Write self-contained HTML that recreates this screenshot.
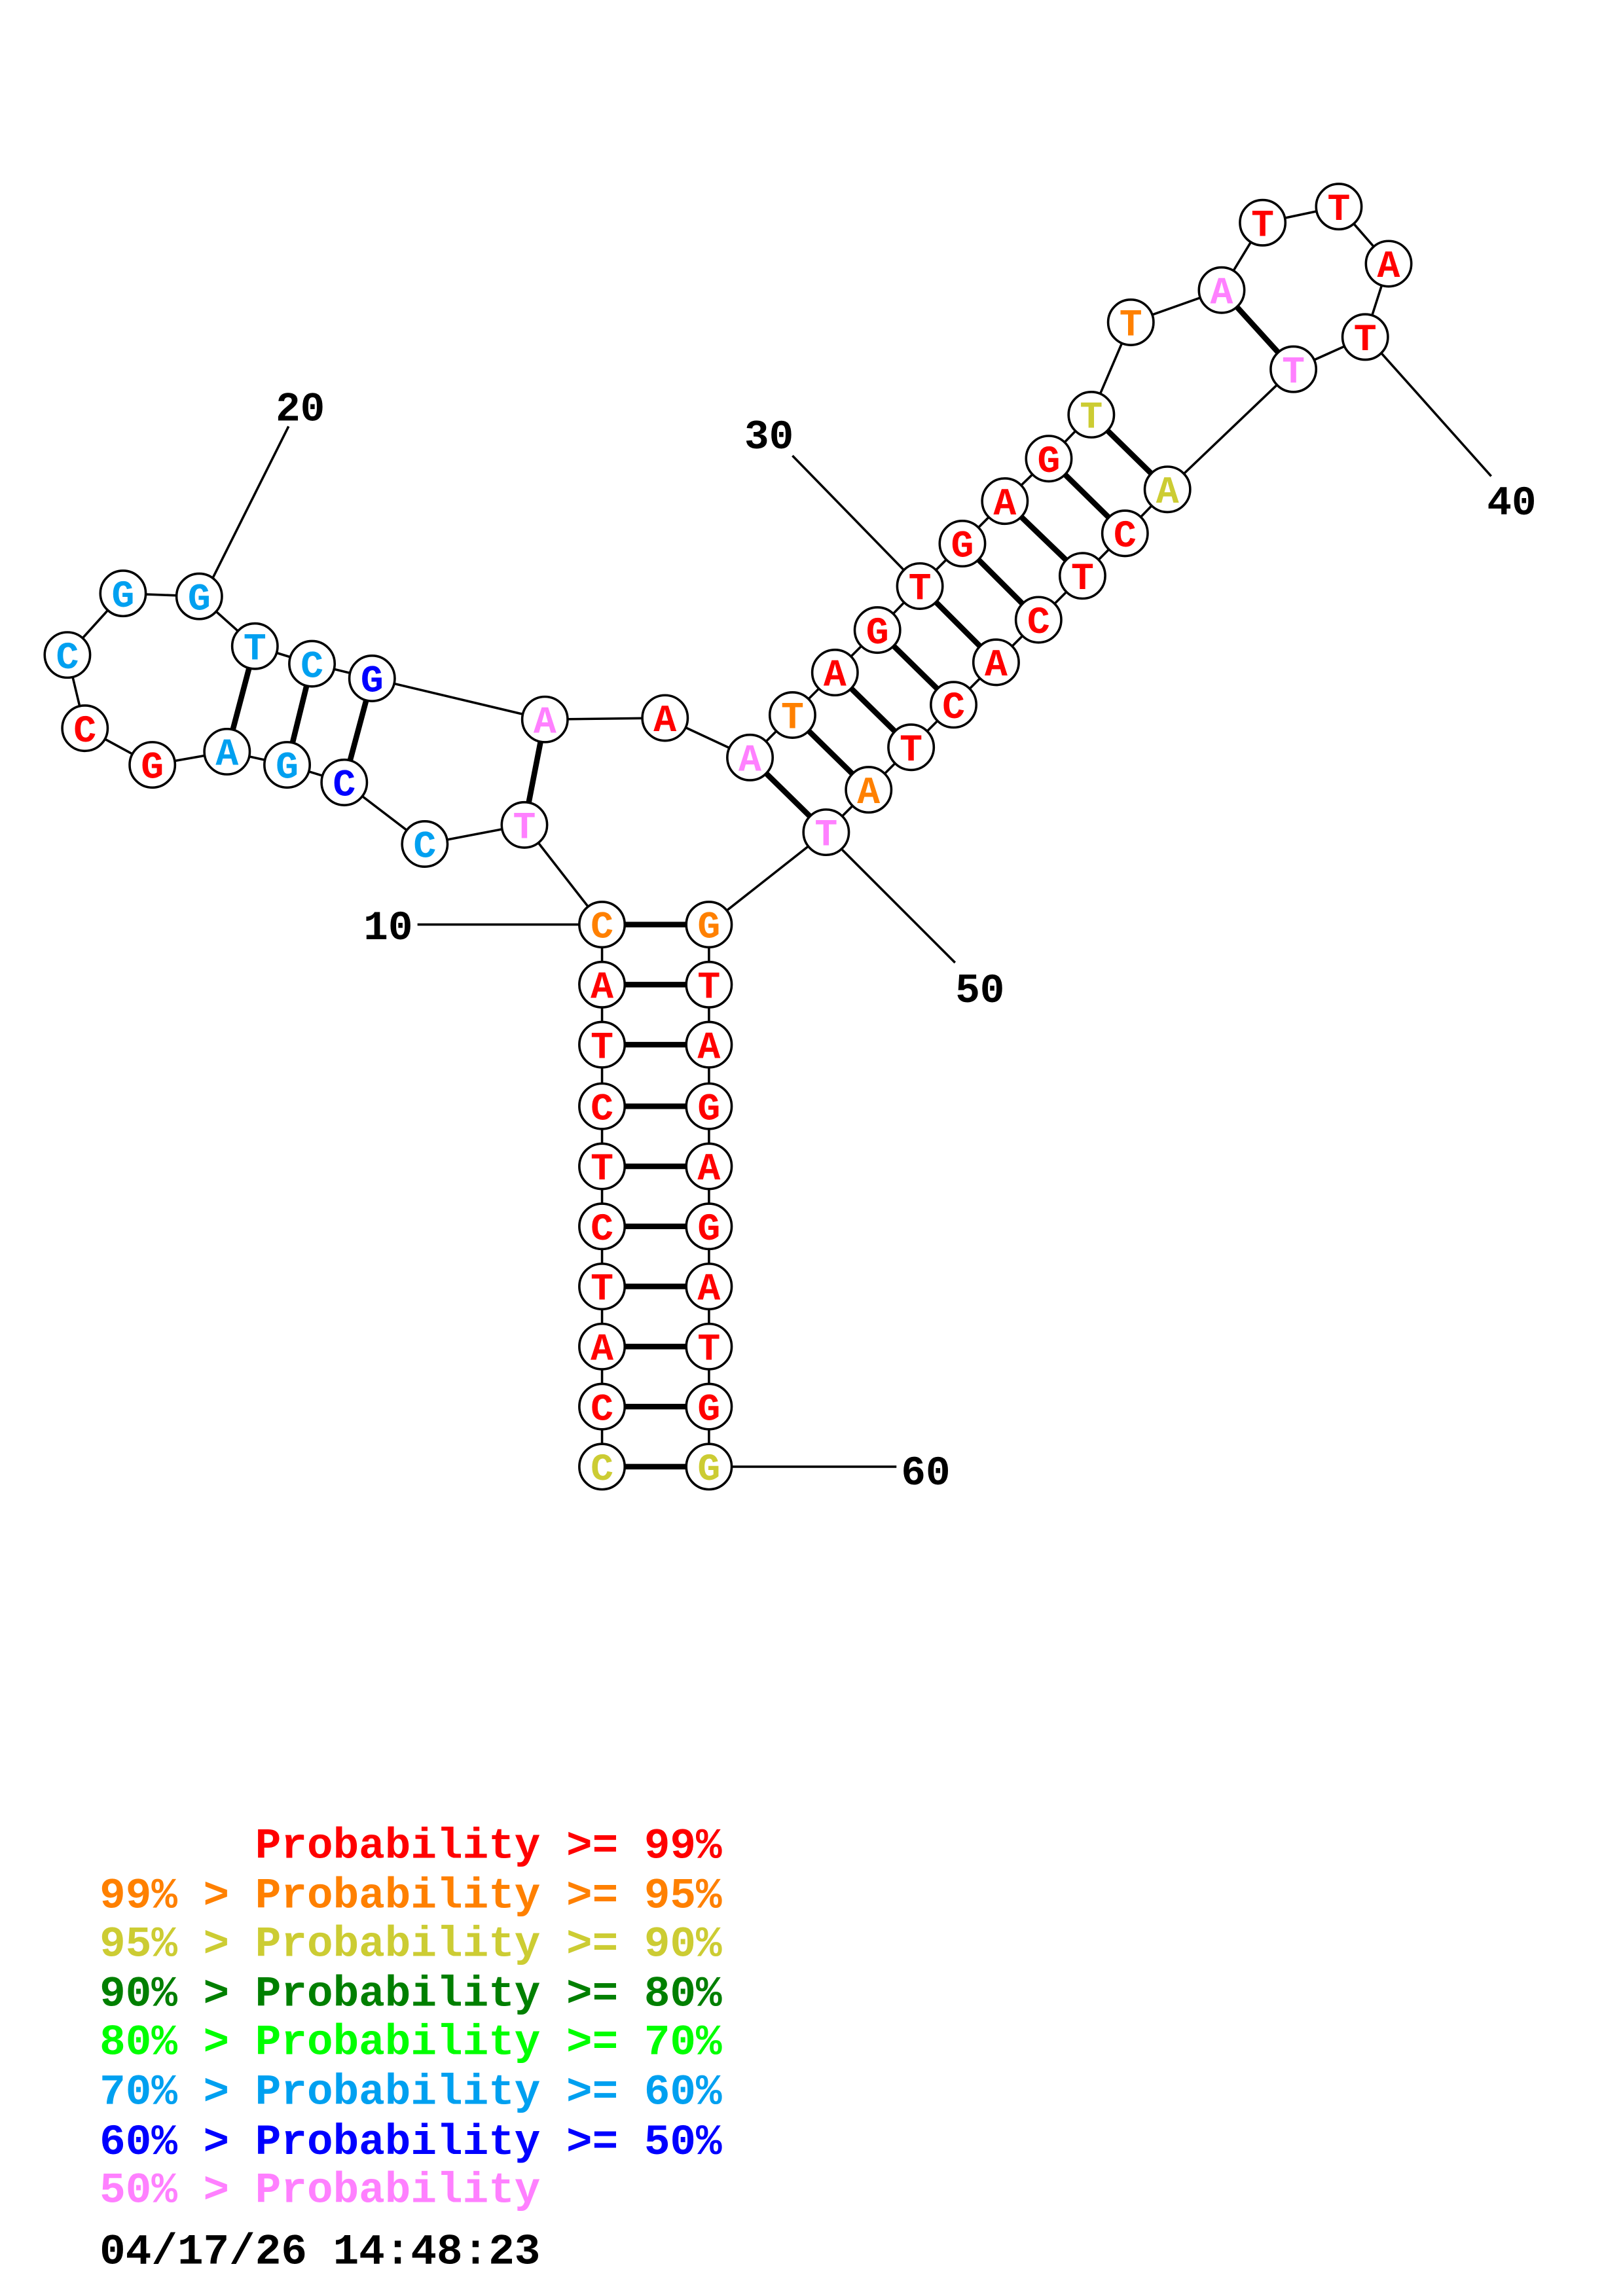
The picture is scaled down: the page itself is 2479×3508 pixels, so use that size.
<!DOCTYPE html>
<html><head><meta charset="utf-8"><style>
html,body{margin:0;padding:0;background:#fff;}
svg{display:block;}
.n{fill:#fff;stroke:#000;stroke-width:1.6;}
.l{font-family:"Liberation Mono",monospace;font-weight:bold;font-size:26px;text-anchor:middle;}
.lab{font-family:"Liberation Mono",monospace;font-weight:bold;font-size:28px;text-anchor:middle;fill:#000;}
.leg{font-family:"Liberation Mono",monospace;font-weight:bold;font-size:29.5px;white-space:pre;}
</style></head><body>
<svg width="2479" height="3508" viewBox="0 0 1108 1567" preserveAspectRatio="none" xmlns="http://www.w3.org/2000/svg">
<rect width="1108" height="1567" fill="#fff"/>
<g stroke="#000" stroke-width="1.6" fill="none">
<polyline points="411,1001 411,960 411,919 411,878 411,837 411,796 411,755 411,713 411,672 411,631 358,563 290,576 235,534 196,522 155,513 104,522 58,497 46,447 84,405 136,407 174,441 213,453 254,463 372,491 454,490 512,517 541,488 570,459 599,430 628,400 657,371 686,342 716,313 745,283 772,220 834,198 862,152 914,141 948,180 932,230 883,252 797,334 768,364 739,393 709,423 680,452 651,481 622,510 593,539 564,568 484,631 484,672 484,713 484,755 484,796 484,837 484,878 484,919 484,960 484,1001"/>
<line x1="285" y1="631" x2="398" y2="631"/>
<line x1="197" y1="291" x2="145" y2="395"/>
<line x1="541" y1="311" x2="617" y2="389"/>
<line x1="1018" y1="325" x2="943" y2="241"/>
<line x1="652" y1="657" x2="575" y2="580"/>
<line x1="498" y1="1001" x2="612" y2="1001"/>
</g>
<g stroke="#000" stroke-width="3.8">
<line x1="411" y1="631" x2="484" y2="631"/><line x1="411" y1="672" x2="484" y2="672"/>
<line x1="411" y1="713" x2="484" y2="713"/><line x1="411" y1="755" x2="484" y2="755"/>
<line x1="411" y1="796" x2="484" y2="796"/><line x1="411" y1="837" x2="484" y2="837"/>
<line x1="411" y1="878" x2="484" y2="878"/><line x1="411" y1="919" x2="484" y2="919"/>
<line x1="411" y1="960" x2="484" y2="960"/><line x1="411" y1="1001" x2="484" y2="1001"/>
<line x1="358" y1="563" x2="372" y2="491"/>
<line x1="235" y1="534" x2="254" y2="463"/>
<line x1="196" y1="522" x2="213" y2="453"/>
<line x1="155" y1="513" x2="174" y2="441"/>
<line x1="512" y1="517" x2="564" y2="568"/><line x1="541" y1="488" x2="593" y2="539"/>
<line x1="570" y1="459" x2="622" y2="510"/><line x1="599" y1="430" x2="651" y2="481"/>
<line x1="628" y1="400" x2="680" y2="452"/><line x1="657" y1="371" x2="709" y2="423"/>
<line x1="686" y1="342" x2="739" y2="393"/><line x1="716" y1="313" x2="768" y2="364"/>
<line x1="745" y1="283" x2="797" y2="334"/><line x1="834" y1="198" x2="883" y2="252"/>
</g>
<g>
<circle class="n" cx="411" cy="1001" r="15.5"/><circle class="n" cx="411" cy="960" r="15.5"/>
<circle class="n" cx="411" cy="919" r="15.5"/><circle class="n" cx="411" cy="878" r="15.5"/>
<circle class="n" cx="411" cy="837" r="15.5"/><circle class="n" cx="411" cy="796" r="15.5"/>
<circle class="n" cx="411" cy="755" r="15.5"/><circle class="n" cx="411" cy="713" r="15.5"/>
<circle class="n" cx="411" cy="672" r="15.5"/><circle class="n" cx="411" cy="631" r="15.5"/>
<circle class="n" cx="358" cy="563" r="15.5"/><circle class="n" cx="290" cy="576" r="15.5"/>
<circle class="n" cx="235" cy="534" r="15.5"/><circle class="n" cx="196" cy="522" r="15.5"/>
<circle class="n" cx="155" cy="513" r="15.5"/><circle class="n" cx="104" cy="522" r="15.5"/>
<circle class="n" cx="58" cy="497" r="15.5"/><circle class="n" cx="46" cy="447" r="15.5"/>
<circle class="n" cx="84" cy="405" r="15.5"/><circle class="n" cx="136" cy="407" r="15.5"/>
<circle class="n" cx="174" cy="441" r="15.5"/><circle class="n" cx="213" cy="453" r="15.5"/>
<circle class="n" cx="254" cy="463" r="15.5"/><circle class="n" cx="372" cy="491" r="15.5"/>
<circle class="n" cx="454" cy="490" r="15.5"/><circle class="n" cx="512" cy="517" r="15.5"/>
<circle class="n" cx="541" cy="488" r="15.5"/><circle class="n" cx="570" cy="459" r="15.5"/>
<circle class="n" cx="599" cy="430" r="15.5"/><circle class="n" cx="628" cy="400" r="15.5"/>
<circle class="n" cx="657" cy="371" r="15.5"/><circle class="n" cx="686" cy="342" r="15.5"/>
<circle class="n" cx="716" cy="313" r="15.5"/><circle class="n" cx="745" cy="283" r="15.5"/>
<circle class="n" cx="772" cy="220" r="15.5"/><circle class="n" cx="834" cy="198" r="15.5"/>
<circle class="n" cx="862" cy="152" r="15.5"/><circle class="n" cx="914" cy="141" r="15.5"/>
<circle class="n" cx="948" cy="180" r="15.5"/><circle class="n" cx="932" cy="230" r="15.5"/>
<circle class="n" cx="883" cy="252" r="15.5"/><circle class="n" cx="797" cy="334" r="15.5"/>
<circle class="n" cx="768" cy="364" r="15.5"/><circle class="n" cx="739" cy="393" r="15.5"/>
<circle class="n" cx="709" cy="423" r="15.5"/><circle class="n" cx="680" cy="452" r="15.5"/>
<circle class="n" cx="651" cy="481" r="15.5"/><circle class="n" cx="622" cy="510" r="15.5"/>
<circle class="n" cx="593" cy="539" r="15.5"/><circle class="n" cx="564" cy="568" r="15.5"/>
<circle class="n" cx="484" cy="631" r="15.5"/><circle class="n" cx="484" cy="672" r="15.5"/>
<circle class="n" cx="484" cy="713" r="15.5"/><circle class="n" cx="484" cy="755" r="15.5"/>
<circle class="n" cx="484" cy="796" r="15.5"/><circle class="n" cx="484" cy="837" r="15.5"/>
<circle class="n" cx="484" cy="878" r="15.5"/><circle class="n" cx="484" cy="919" r="15.5"/>
<circle class="n" cx="484" cy="960" r="15.5"/><circle class="n" cx="484" cy="1001" r="15.5"/>
</g>
<g class="l">
<text x="411" y="1010" fill="#cccc33">C</text><text x="411" y="969" fill="#ff0000">C</text>
<text x="411" y="928" fill="#ff0000">A</text><text x="411" y="887" fill="#ff0000">T</text>
<text x="411" y="846" fill="#ff0000">C</text><text x="411" y="805" fill="#ff0000">T</text>
<text x="411" y="764" fill="#ff0000">C</text><text x="411" y="722" fill="#ff0000">T</text>
<text x="411" y="681" fill="#ff0000">A</text><text x="411" y="640" fill="#ff8000">C</text>
<text x="358" y="572" fill="#ff80ff">T</text><text x="290" y="585" fill="#00a0f0">C</text>
<text x="235" y="543" fill="#0000ff">C</text><text x="196" y="531" fill="#00a0f0">G</text>
<text x="155" y="522" fill="#00a0f0">A</text><text x="104" y="531" fill="#ff0000">G</text>
<text x="58" y="506" fill="#ff0000">C</text><text x="46" y="456" fill="#00a0f0">C</text>
<text x="84" y="414" fill="#00a0f0">G</text><text x="136" y="416" fill="#00a0f0">G</text>
<text x="174" y="450" fill="#00a0f0">T</text><text x="213" y="462" fill="#00a0f0">C</text>
<text x="254" y="472" fill="#0000ff">G</text><text x="372" y="500" fill="#ff80ff">A</text>
<text x="454" y="499" fill="#ff0000">A</text><text x="512" y="526" fill="#ff80ff">A</text>
<text x="541" y="497" fill="#ff8000">T</text><text x="570" y="468" fill="#ff0000">A</text>
<text x="599" y="439" fill="#ff0000">G</text><text x="628" y="409" fill="#ff0000">T</text>
<text x="657" y="380" fill="#ff0000">G</text><text x="686" y="351" fill="#ff0000">A</text>
<text x="716" y="322" fill="#ff0000">G</text><text x="745" y="292" fill="#cccc33">T</text>
<text x="772" y="229" fill="#ff8000">T</text><text x="834" y="207" fill="#ff80ff">A</text>
<text x="862" y="161" fill="#ff0000">T</text><text x="914" y="150" fill="#ff0000">T</text>
<text x="948" y="189" fill="#ff0000">A</text><text x="932" y="239" fill="#ff0000">T</text>
<text x="883" y="261" fill="#ff80ff">T</text><text x="797" y="343" fill="#cccc33">A</text>
<text x="768" y="373" fill="#ff0000">C</text><text x="739" y="402" fill="#ff0000">T</text>
<text x="709" y="432" fill="#ff0000">C</text><text x="680" y="461" fill="#ff0000">A</text>
<text x="651" y="490" fill="#ff0000">C</text><text x="622" y="519" fill="#ff0000">T</text>
<text x="593" y="548" fill="#ff8000">A</text><text x="564" y="577" fill="#ff80ff">T</text>
<text x="484" y="640" fill="#ff8000">G</text><text x="484" y="681" fill="#ff0000">T</text>
<text x="484" y="722" fill="#ff0000">A</text><text x="484" y="764" fill="#ff0000">G</text>
<text x="484" y="805" fill="#ff0000">A</text><text x="484" y="846" fill="#ff0000">G</text>
<text x="484" y="887" fill="#ff0000">A</text><text x="484" y="928" fill="#ff0000">T</text>
<text x="484" y="969" fill="#ff0000">G</text><text x="484" y="1010" fill="#cccc33">G</text>
</g>
<g class="lab">
<text x="265" y="641">10</text>
<text x="205" y="287">20</text>
<text x="525" y="306">30</text>
<text x="1032" y="351">40</text>
<text x="669" y="684">50</text>
<text x="632" y="1013">60</text>
</g>
<g class="leg">
<text x="68" y="1268" fill="#ff0000" xml:space="preserve">      Probability &gt;= 99%</text>
<text x="68" y="1302" fill="#ff8000" xml:space="preserve">99% &gt; Probability &gt;= 95%</text>
<text x="68" y="1335" fill="#cccc33" xml:space="preserve">95% &gt; Probability &gt;= 90%</text>
<text x="68" y="1369" fill="#007f00" xml:space="preserve">90% &gt; Probability &gt;= 80%</text>
<text x="68" y="1402" fill="#00ff00" xml:space="preserve">80% &gt; Probability &gt;= 70%</text>
<text x="68" y="1436" fill="#00a0f0" xml:space="preserve">70% &gt; Probability &gt;= 60%</text>
<text x="68" y="1470" fill="#0000ff" xml:space="preserve">60% &gt; Probability &gt;= 50%</text>
<text x="68" y="1503" fill="#ff80ff" xml:space="preserve">50% &gt; Probability</text>
<text x="68" y="1545" fill="#000" xml:space="preserve">04/17/26 14:48:23</text>
</g>
</svg>
</body></html>
